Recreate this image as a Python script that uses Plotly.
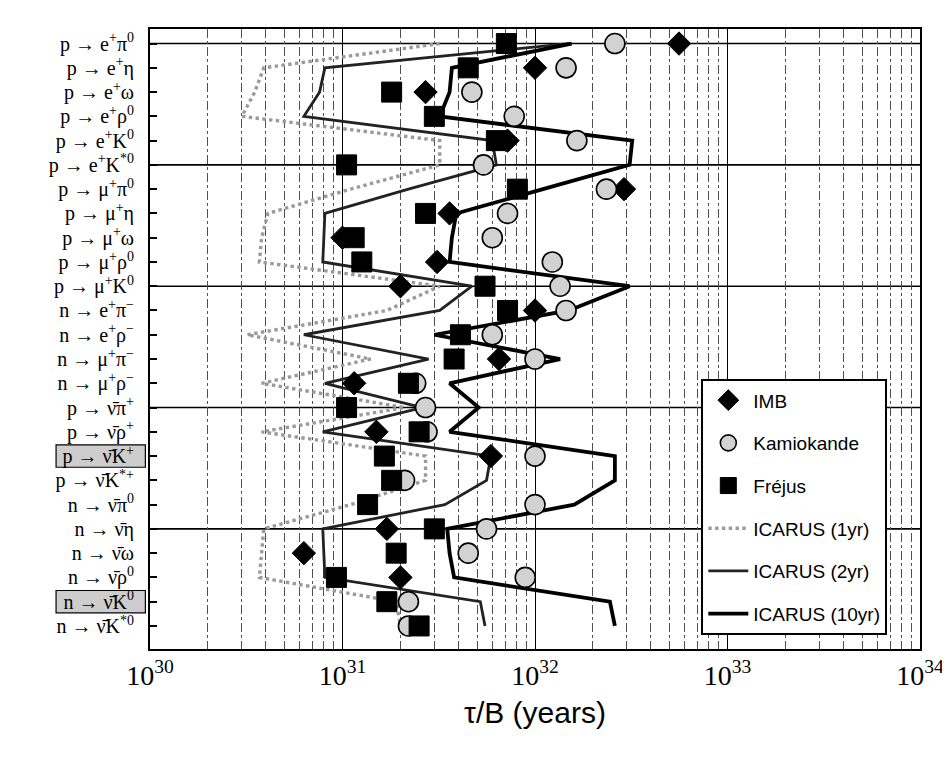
import plotly.graph_objects as go

# ---------------- data ----------------
channels = [
    "p → e<sup>+</sup>π<sup>0</sup>",
    "p → e<sup>+</sup>η",
    "p → e<sup>+</sup>ω",
    "p → e<sup>+</sup>ρ<sup>0</sup>",
    "p → e<sup>+</sup>K<sup>0</sup>",
    "p → e<sup>+</sup>K<sup>*0</sup>",
    "p → μ<sup>+</sup>π<sup>0</sup>",
    "p → μ<sup>+</sup>η",
    "p → μ<sup>+</sup>ω",
    "p → μ<sup>+</sup>ρ<sup>0</sup>",
    "p → μ<sup>+</sup>K<sup>0</sup>",
    "n → e<sup>+</sup>π<sup>−</sup>",
    "n → e<sup>+</sup>ρ<sup>−</sup>",
    "n → μ<sup>+</sup>π<sup>−</sup>",
    "n → μ<sup>+</sup>ρ<sup>−</sup>",
    "p → ν̄π<sup>+</sup>",
    "p → ν̄ρ<sup>+</sup>",
    "p → ν̄K<sup>+</sup>",
    "p → ν̄K<sup>*+</sup>",
    "n → ν̄π<sup>0</sup>",
    "n → ν̄η",
    "n → ν̄ω",
    "n → ν̄ρ<sup>0</sup>",
    "n → ν̄K<sup>0</sup>",
    "n → ν̄K<sup>*0</sup>",
]
highlighted = ["p → ν̄K<sup>+</sup>", "n → ν̄K<sup>0</sup>"]

imb = [5.6e32, 1.0e32, 2.7e31, None, 7.2e31, None, 2.9e32, 3.6e31, 1.0e31, 3.1e31,
       2.0e31, 1.0e32, None, 6.5e31, 1.15e31, None, 1.5e31, 5.9e31, None, None,
       1.7e31, 6.3e30, 2.0e31, None, None]
kamiokande = [2.6e32, 1.45e32, 4.7e31, 7.8e31, 1.65e32, 5.4e31, 2.35e32, 7.2e31, 6.0e31, 1.23e32,
              1.35e32, 1.45e32, 6.0e31, 1.0e32, 2.4e31, 2.7e31, 2.75e31, 1.0e32, 2.1e31, 1.0e32,
              5.6e31, 4.5e31, 8.9e31, 2.2e31, 2.2e31]
frejus = [7.1e31, 4.5e31, 1.8e31, 3.0e31, 6.3e31, 1.05e31, 8.1e31, 2.7e31, 1.15e31, 1.26e31,
          5.5e31, 7.2e31, 4.1e31, 3.8e31, 2.2e31, 1.05e31, 2.5e31, 1.65e31, 1.8e31, 1.35e31,
          3.0e31, 1.9e31, 9.3e30, 1.7e31, 2.5e31]
icarus_1yr = [3.2e31, 3.9e30, 3.5e30, 3.0e30, 3.2e31, 3.2e31, 1.1e31, 4.1e30, 3.8e30, 3.7e30,
              3.2e31, 1.7e31, 3.2e30, 1.4e31, 3.8e30, 2.1e31, 3.8e30, 2.7e31, 2.7e31, 1.1e31,
              3.9e30, 3.8e30, 3.7e30, 1.9e31, 2.0e31]
icarus_2yr = [1.5e32, 8.1e30, 7.6e30, 6.3e30, 6.0e31, 6.3e31, 2.2e31, 8.1e30, 8.0e30, 7.9e30,
              4.7e31, 3.2e31, 6.3e30, 2.8e31, 8.1e30, 2.6e31, 7.9e30, 5.9e31, 5.6e31, 3.4e31,
              7.9e30, 8.0e30, 8.1e30, 5.2e31, 5.5e31]
icarus_10yr = [1.55e32, 3.7e31, 3.6e31, 3.2e31, 3.2e32, 3.1e32, 1.1e32, 3.9e31, 3.7e31, 3.6e31,
               3.1e32, 1.5e32, 3.0e31, 1.35e32, 3.6e31, 5.1e31, 3.6e31, 2.6e32, 2.6e32, 1.6e32,
               3.5e31, 3.6e31, 3.8e31, 2.45e32, 2.6e32]

decade_exponents = [30, 31, 32, 33, 34]
x_tick_vals = [10.0 ** e for e in decade_exponents]
x_tick_text = ["10<sup>%d</sup>" % e for e in decade_exponents]

rows = list(range(len(channels)))

# ---------------- figure ----------------
fig = go.Figure()

line_specs = [
    ("ICARUS (1yr)", icarus_1yr, dict(color="#9a9a9a", width=3.4, dash="dot")),
    ("ICARUS (2yr)", icarus_2yr, dict(color="#222222", width=2.8)),
    ("ICARUS (10yr)", icarus_10yr, dict(color="black", width=3.8)),
]
marker_specs = [
    ("IMB", imb, dict(symbol="diamond", size=18, color="black", line=dict(color="black", width=1))),
    ("Kamiokande", kamiokande, dict(symbol="circle", size=20, color="#d2d2d2", line=dict(color="black", width=1.6))),
    ("Fréjus", frejus, dict(symbol="square", size=20, color="black", line=dict(color="black", width=1))),
]

for k, (name, vals, ln) in enumerate(line_specs):
    fig.add_trace(go.Scatter(x=vals, y=rows, mode="lines", name=name, line=ln,
                             legendgroup=name, legendrank=10 + k))
for k, (name, vals, mk) in enumerate(marker_specs):
    xs = [v for v in vals if v is not None]
    ys = [r for r, v in zip(rows, vals) if v is not None]
    fig.add_trace(go.Scatter(x=xs, y=ys, mode="markers", name=name, marker=mk,
                             legendgroup=name, legendrank=1 + k))

# horizontal group lines every five channels
shapes = []
for r in rows:
    if r % 5 == 0:
        shapes.append(dict(type="line", xref="paper", x0=0, x1=1, yref="y", y0=r, y1=r,
                           line=dict(color="black", width=1.6), layer="below"))
# shaded boxes behind highlighted channel labels
for lab in highlighted:
    r = channels.index(lab)
    shapes.append(dict(type="rect", xref="paper", x0=-0.122, x1=-0.006, yref="y",
                       y0=r - 0.46, y1=r + 0.46, fillcolor="#cdcdcd",
                       line=dict(color="black", width=1.2), layer="below"))

fig.update_layout(
    width=950, height=758,
    margin=dict(l=142, r=38, t=21, b=117),
    paper_bgcolor="white", plot_bgcolor="white",
    shapes=shapes,
    showlegend=True,
    legend=dict(
        x=0.716, y=0.435, xanchor="left", yanchor="top",
        bgcolor="white", bordercolor="black", borderwidth=2,
        font=dict(family="Liberation Sans, Arial, sans-serif", size=19, color="black"),
        tracegroupgap=15, itemwidth=40,
    ),
    xaxis=dict(
        type="log", range=[30, 34],
        tickvals=x_tick_vals, ticktext=x_tick_text,
        tickfont=dict(family="Liberation Serif, Times New Roman, serif", size=28, color="black"),
        showgrid=True, gridcolor="black", gridwidth=1,
        minor=dict(dtick="D1", showgrid=True, gridcolor="#505050", griddash="dashdot", gridwidth=1),
        showline=True, linecolor="black", linewidth=2, mirror=True,
        ticks="", zeroline=False,
        title=dict(text="τ/B (years)", standoff=12,
                   font=dict(family="Liberation Sans, Arial, sans-serif", size=30, color="black")),
    ),
    yaxis=dict(
        range=[24.95, -0.6],
        tickvals=rows, ticktext=channels,
        tickfont=dict(family="Liberation Serif, DejaVu Serif, serif", size=20, color="black"),
        ticks="inside", ticklen=7, tickwidth=1.5, tickcolor="black",
        ticklabelstandoff=10,
        showgrid=False, zeroline=False,
        showline=True, linecolor="black", linewidth=2, mirror=True,
    ),
)

fig.write_html("out.html")
